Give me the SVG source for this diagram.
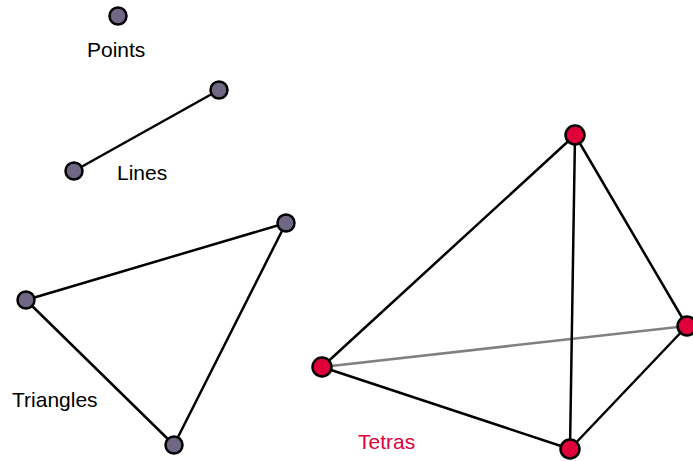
<svg xmlns="http://www.w3.org/2000/svg" width="693" height="461" viewBox="0 0 693 461">
<style>
.edge{stroke:#000;stroke-width:2.5;fill:none;stroke-linecap:round}
.hidden{stroke:#808080;stroke-width:2.5;fill:none}
.pt{fill:#6f6784;stroke:#000;stroke-width:2.5}
.rd{fill:#e0003a;stroke:#000;stroke-width:2.5}
.lbl{font-family:"Liberation Sans",Arial,sans-serif;font-size:21px;fill:#000}
.rlbl{font-family:"Liberation Sans",Arial,sans-serif;font-size:21px;fill:#e0003a}
</style>
<rect width="693" height="461" fill="#fff"/>
<g id="connectors">
<line class="edge" x1="74" y1="171" x2="219" y2="90"/>
<line class="edge" x1="286" y1="223" x2="26" y2="300"/>
<line class="edge" x1="26" y1="300" x2="174" y2="445"/>
<line class="edge" x1="174" y1="445" x2="286" y2="223"/>
<line class="hidden" x1="322" y1="367" x2="687" y2="326"/>
<line class="edge" x1="322" y1="367" x2="575" y2="135"/>
<line class="edge" x1="575" y1="135" x2="570" y2="449"/>
<line class="edge" x1="575" y1="135" x2="687" y2="326"/>
<line class="edge" x1="687" y1="326" x2="570" y2="449"/>
<line class="edge" x1="322" y1="367" x2="570" y2="449"/>
</g>
<g id="points"><circle class="pt" cx="118" cy="16" r="8.5"/></g>
<g id="line-a"><circle class="pt" cx="219" cy="90" r="8.5"/></g>
<g id="line-b"><circle class="pt" cx="74" cy="171" r="8.5"/></g>
<g id="tri-a"><circle class="pt" cx="286" cy="223" r="8.5"/></g>
<g id="tri-b"><circle class="pt" cx="26" cy="300" r="8.5"/></g>
<g id="tri-c"><circle class="pt" cx="174" cy="445" r="8.5"/></g>
<g id="tet-top"><circle class="rd" cx="575" cy="135" r="9.5"/></g>
<g id="tet-right"><circle class="rd" cx="687" cy="326" r="9.5"/></g>
<g id="tet-left"><circle class="rd" cx="322" cy="367" r="9.5"/></g>
<g id="tet-bottom"><circle class="rd" cx="570" cy="449" r="9.5"/></g>
<g id="labels">
<text class="lbl" x="87" y="57">Points</text>
<text class="lbl" x="117" y="180">Lines</text>
<text class="lbl" x="12" y="407">Triangles</text>
<text class="rlbl" x="358" y="449">Tetras</text>
</g>
</svg>
